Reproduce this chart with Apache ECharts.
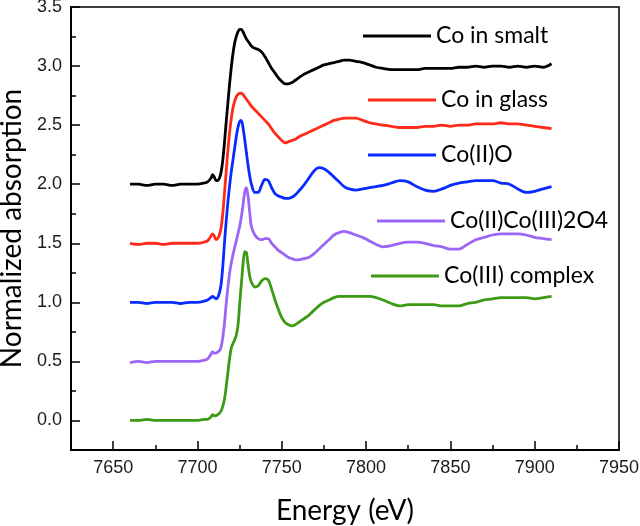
<!DOCTYPE html>
<html>
<head>
<meta charset="utf-8">
<script src="https://cdn.jsdelivr.net/npm/echarts@6/dist/echarts.min.js"></script>
<style>html,body{margin:0;padding:0;background:#fff}#c{width:640px;height:526px}</style>
</head>
<body>
<div id="c"></div>
<script>
const energy = [7660,7665,7670,7675,7680,7685,7690,7695,7700,7704,7706,7708,
  7709,7710,7711,7712,7713,7714,7715,7716,7717,7718,7719,7720,7721,7722,7723,7724,7725,7726,7727,7728,7729,7730,7731,7732,
  7734,7736,7738,7740,7742,7744,7746,7748,7750,7752,7754,7756,7758,7760,
  7763,7766,7769,7772,7775,7778,7781,7784,7787,7790,
  7794,7798,7802,7806,7810,
  7815,7820,7825,7830,7835,7840,7845,7850,7855,7860,7865,7870,7875,7880,7885,7890,7895,7900,7905,7910];

const smalt = [2.00,2.00,1.99,2.00,2.00,1.99,2.00,2.00,2.00,2.01,2.02,2.05,
  2.08,2.06,2.03,2.03,2.05,2.10,2.20,2.35,2.52,2.68,2.84,2.98,3.10,3.19,3.25,3.29,3.31,3.31,3.29,3.26,3.23,3.21,3.19,3.17,
  3.15,3.14,3.12,3.08,3.03,2.98,2.94,2.90,2.87,2.85,2.85,2.86,2.88,2.90,
  2.93,2.95,2.97,2.99,3.01,3.02,3.03,3.04,3.05,3.05,
  3.04,3.03,3.01,2.99,2.98,
  2.97,2.97,2.97,2.97,2.98,2.98,2.98,2.98,2.99,2.99,3.00,2.99,3.00,3.00,2.99,3.00,2.99,3.00,2.99,3.02];

const glass = [1.50,1.49,1.50,1.50,1.49,1.50,1.50,1.50,1.50,1.51,1.52,1.56,
  1.58,1.56,1.53,1.54,1.57,1.63,1.75,1.92,2.10,2.28,2.43,2.55,2.64,2.70,2.74,2.76,2.77,2.77,2.76,2.74,2.72,2.70,2.68,2.66,
  2.63,2.60,2.57,2.54,2.51,2.47,2.43,2.40,2.37,2.35,2.36,2.37,2.38,2.40,
  2.42,2.44,2.46,2.48,2.50,2.52,2.54,2.55,2.56,2.56,
  2.56,2.54,2.52,2.51,2.50,
  2.49,2.48,2.48,2.48,2.49,2.49,2.50,2.49,2.50,2.50,2.51,2.51,2.51,2.52,2.51,2.51,2.50,2.49,2.48,2.47];

const coO = [1.00,1.00,0.99,1.00,1.00,1.00,0.99,1.00,1.00,1.01,1.02,1.04,
  1.05,1.04,1.03,1.04,1.08,1.15,1.30,1.50,1.68,1.84,1.98,2.10,2.20,2.30,2.40,2.48,2.53,2.54,2.48,2.38,2.27,2.16,2.07,2.00,
  1.93,1.93,1.99,2.04,2.03,1.97,1.92,1.90,1.89,1.88,1.88,1.89,1.91,1.94,
  1.99,2.05,2.11,2.14,2.13,2.10,2.06,2.02,1.98,1.96,
  1.95,1.96,1.97,1.98,1.99,
  2.01,2.03,2.02,1.98,1.95,1.94,1.96,1.99,2.01,2.02,2.03,2.03,2.03,2.01,2.00,1.96,1.93,1.94,1.96,1.98];

const co3o4 = [0.49,0.50,0.49,0.50,0.50,0.50,0.50,0.50,0.50,0.51,0.52,0.56,
  0.58,0.57,0.57,0.58,0.59,0.62,0.70,0.82,0.98,1.12,1.24,1.33,1.40,1.46,1.52,1.58,1.64,1.72,1.82,1.93,1.97,1.90,1.76,1.64,
  1.57,1.54,1.53,1.54,1.54,1.50,1.47,1.44,1.42,1.40,1.38,1.37,1.36,1.36,
  1.37,1.38,1.41,1.45,1.49,1.53,1.57,1.59,1.60,1.59,
  1.57,1.55,1.52,1.49,1.47,
  1.48,1.50,1.51,1.51,1.50,1.48,1.47,1.45,1.45,1.49,1.53,1.55,1.57,1.58,1.58,1.58,1.57,1.55,1.54,1.53];

const coIII = [0.00,0.00,0.01,0.00,0.00,0.00,0.00,0.00,0.00,0.01,0.01,0.03,
  0.05,0.04,0.04,0.05,0.06,0.08,0.12,0.18,0.28,0.40,0.52,0.61,0.65,0.68,0.72,0.80,0.98,1.15,1.32,1.43,1.42,1.32,1.22,1.17,
  1.13,1.14,1.18,1.20,1.19,1.11,1.02,0.94,0.87,0.83,0.81,0.80,0.81,0.83,
  0.86,0.89,0.93,0.97,1.00,1.02,1.04,1.05,1.05,1.05,
  1.05,1.05,1.05,1.04,1.02,
  0.99,0.97,0.98,0.98,0.98,0.98,0.97,0.97,0.97,0.99,1.00,1.02,1.03,1.04,1.04,1.04,1.04,1.03,1.04,1.05];

const seriesNames = ['Co in smalt','Co in glass','Co(II)O','Co(II)Co(III)2O4','Co(III) complex'];
const seriesValues = [smalt, glass, coO, co3o4, coIII];
const seriesColors = ['#000000','#ff2a1a','#0a2bff','#9b66f5','#3c9a14'];

const xMajorTicks = [7650,7700,7750,7800,7850,7900,7950];
const xMinorTicks = [7675,7725,7775,7825,7875,7925];
const yMajorTicks = [0,0.5,1.0,1.5,2.0,2.5,3.0,3.5];
const yMinorTicks = [0.25,0.75,1.25,1.75,2.25,2.75,3.25];

const legendPos = [
  {left:363, top:24},
  {left:368, top:88},
  {left:368, top:143},
  {left:377, top:209},
  {left:371, top:264}
];

const labelFont = {fontFamily:'Liberation Sans', fontSize:18, color:'#1a1a1a'};

const chart = echarts.init(document.getElementById('c'), null, {renderer:'canvas'});
chart.setOption({
  animation:false,
  backgroundColor:'#fff',
  grid:{left:71, top:7, right:21, bottom:76, containLabel:false, outerBoundsMode:'none',
        show:true, borderColor:'#000', borderWidth:1.5, backgroundColor:'transparent'},
  legend: seriesNames.map((n,i)=>({
    data:[n], left:legendPos[i].left, top:legendPos[i].top, padding:0,
    icon:'rect', itemWidth:68, itemHeight:3, itemGap:0,
    textStyle:{fontFamily:'Lato', fontSize:23, color:'#000', lineHeight:24}
  })),
  xAxis:[{
    type:'value', min:7625, max:7950,
    name:'Energy (eV)', nameLocation:'middle', nameGap:47,
    nameTextStyle:{fontFamily:'Lato', fontSize:28, color:'#000'},
    axisLine:{show:true, onZero:false, lineStyle:{color:'#000', width:2}},
    axisTick:{show:true, inside:true, length:9, lineStyle:{color:'#000', width:1.5}, customValues:xMajorTicks},
    axisLabel:{...labelFont, margin:9, customValues:xMajorTicks, formatter:v=>String(v)},
    splitLine:{show:false}
  },{
    type:'value', min:7625, max:7950, position:'bottom',
    axisLine:{show:false, onZero:false},
    axisTick:{show:true, inside:true, length:5, lineStyle:{color:'#000', width:1.5}, customValues:xMinorTicks},
    axisLabel:{show:false},
    splitLine:{show:false}
  }],
  yAxis:[{
    type:'value', min:-0.25, max:3.5,
    name:'Normalized absorption', nameLocation:'middle', nameGap:34, nameRotate:90,
    nameTextStyle:{fontFamily:'Lato', fontSize:28, color:'#000'},
    axisLine:{show:true, onZero:false, lineStyle:{color:'#000', width:2}},
    axisTick:{show:true, inside:true, length:9, lineStyle:{color:'#000', width:1.5}, customValues:yMajorTicks},
    axisLabel:{...labelFont, margin:9, customValues:yMajorTicks, formatter:v=>v.toFixed(1)},
    splitLine:{show:false}
  },{
    type:'value', min:-0.25, max:3.5, position:'left',
    axisLine:{show:false, onZero:false},
    axisTick:{show:true, inside:true, length:5, lineStyle:{color:'#000', width:1.5}, customValues:yMinorTicks},
    axisLabel:{show:false},
    splitLine:{show:false}
  }],
  series: seriesNames.map((n,i)=>({
    name:n, type:'line', xAxisIndex:0, yAxisIndex:0,
    data: energy.map((e,k)=>[e, seriesValues[i][k]]),
    showSymbol:false, smooth:0.3,
    lineStyle:{color:seriesColors[i], width:2.8},
    itemStyle:{color:seriesColors[i]}
  }))
});
</script>
</body>
</html>
